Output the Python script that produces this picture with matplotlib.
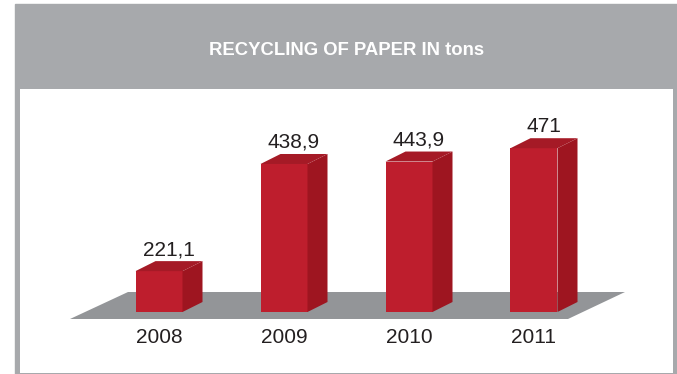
import matplotlib
matplotlib.use("Agg")
import matplotlib.pyplot as plt
from matplotlib.patches import Polygon, Rectangle

# data
years = ["2008", "2009", "2010", "2011"]
values = [221.1, 438.9, 443.9, 471]
labels = ["221,1", "438,9", "443,9", "471"]
title = "RECYCLING OF PAPER IN tons"

# colours
frame_grey = "#a7a9ac"
floor_grey = "#939598"
red_front = "#be1e2d"
red_side = "#9e1520"
red_top = "#a51a26"
txt = "#231f20"

W, H = 677, 374
fig = plt.figure(figsize=(W / 100, H / 100), dpi=100)
fig.patch.set_facecolor("white")

# grey frame + header
fig.patches.append(Rectangle((15 / W, 0), (W - 15) / W, (H - 4) / H,
                             transform=fig.transFigure, color=frame_grey, zorder=-5))
fig.text(347 / W, 1 - 55.3 / H, title, color="white", fontsize=13.3, fontweight="bold",
         ha="center", va="baseline", family="Liberation Sans")

# white panel axes
ax = fig.add_axes([20 / W, 1 / H, (673 - 20) / W, (373 - 89) / H])
ax.set_zorder(1)
ax.set_facecolor("white")
for s in ax.spines.values():
    s.set_visible(False)
ax.set_xticks([])
ax.set_yticks([])

base = 138          # value at the floor line
upp = 2.033         # value units per pixel
ax.set_xlim((20 - 159) / 125, (673 - 159) / 125)
ax.set_ylim(base - 61 * upp, base + 223 * upp)

dx, dy = 0.16, 10 * upp
bw = 0.376

# floor
f_front = base - 7 * upp
f_back = base + 20 * upp
ax.add_patch(Polygon([(-0.712, f_front), (3.272, f_front), (3.728, f_back), (-0.248, f_back)],
                     closed=True, facecolor=floor_grey, edgecolor="none", zorder=1))

xs = list(range(len(values)))
ax.bar(xs, [v - base for v in values], bottom=base, width=bw, color=red_front,
       edgecolor="none", zorder=3)
for x, v, lab, yr in zip(xs, values, labels, years):
    l, r = x - bw / 2, x + bw / 2
    ax.add_patch(Polygon([(r, base), (r + dx, base + dy), (r + dx, v + dy), (r, v)],
                         closed=True, facecolor=red_side, edgecolor="none", zorder=3))
    ax.add_patch(Polygon([(l, v), (r, v), (r + dx, v + dy), (l + dx, v + dy)],
                         closed=True, facecolor=red_top, edgecolor="none", zorder=3))
    ax.text(x + dx / 2, v + dy + 6 * upp, lab, ha="center", va="baseline",
            fontsize=15, color=txt, family="Liberation Sans")
    ax.text(x, base - 31.3 * upp, yr, ha="center", va="baseline",
            fontsize=15, color=txt, family="Liberation Sans")

fig.savefig("out.png", dpi=100)
